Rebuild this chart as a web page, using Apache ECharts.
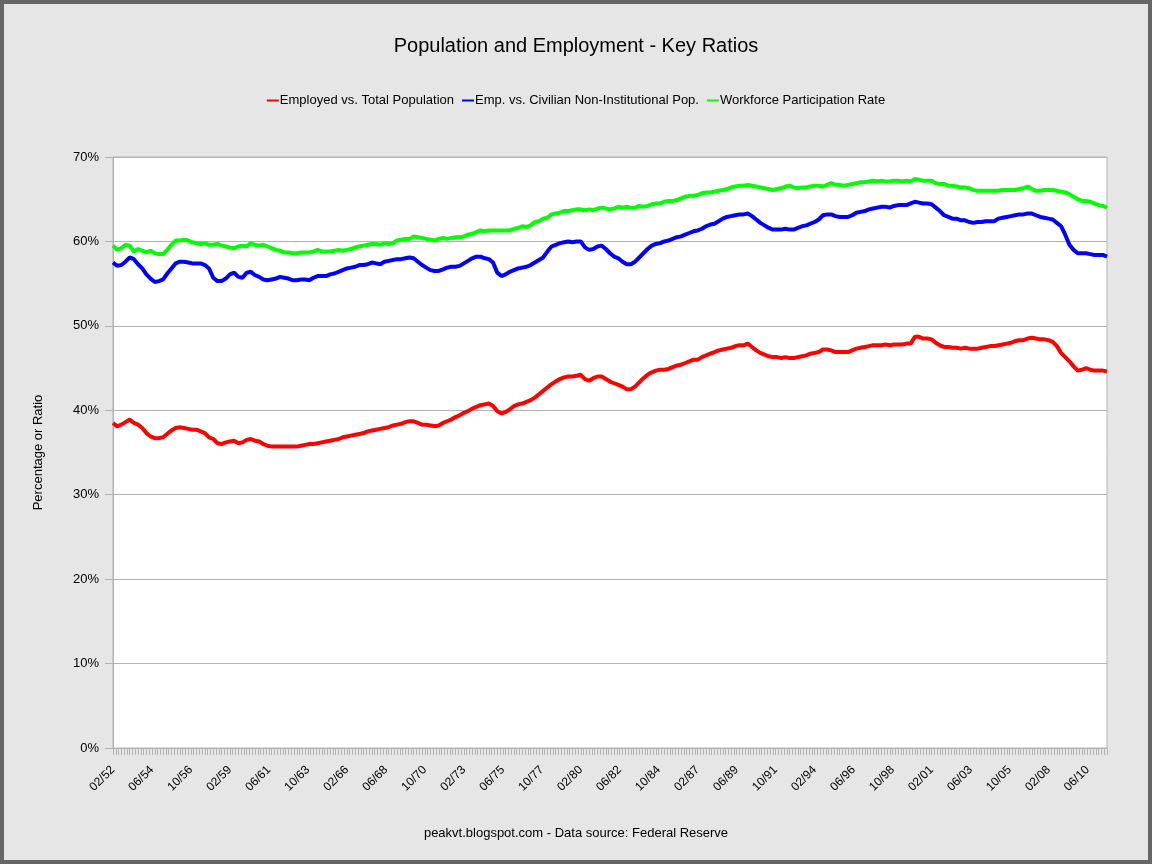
<!DOCTYPE html>
<html>
<head>
<meta charset="utf-8">
<script src="https://cdn.jsdelivr.net/npm/echarts@6/dist/echarts.min.js"></script>
<style>
html,body{margin:0;padding:0;background:#e6e6e6;}
#chart{width:1152px;height:864px;}
</style>
</head>
<body>
<div id="chart"></div>
<script>
// Monthly categories from 02/1952 through 08/2011 (715 months)
const startYear = 1952, startMonth = 2, monthCount = 715;
const categories = [];
for (let i = 0; i < monthCount; i++) {
  const m = (startMonth - 1 + i) % 12 + 1;
  const y = startYear + Math.floor((startMonth - 1 + i) / 12);
  categories.push((m < 10 ? '0' : '') + m + '/' + String(y % 100).padStart(2, '0'));
}
// Values sampled quarterly (Feb, May, Aug, Nov), every 3rd month from 02/52
const sampleStep = 3;

const employedVsTotal = [
38.5,38.1,38.3,38.6, 38.9,38.5,38.3,37.9, 37.3,36.9,36.7,36.7, 36.8,37.2,37.6,37.9,
38.0,37.9,37.8,37.7, 37.7,37.5,37.3,36.8, 36.6,36.1,36.0,36.2, 36.3,36.4,36.1,36.2,
36.5,36.6,36.4,36.3, 36.0,35.8,35.7,35.7, 35.7,35.7,35.7,35.7, 35.7,35.8,35.9,36.0,
36.0,36.1,36.2,36.3, 36.4,36.5,36.6,36.8, 36.9,37.0,37.1,37.2, 37.3,37.5,37.6,37.7,
37.8,37.9,38.0,38.2, 38.3,38.4,38.6,38.7, 38.7,38.5,38.3,38.3, 38.2,38.1,38.2,38.5,
38.7,38.9,39.2,39.4, 39.7,39.9,40.2,40.4, 40.6,40.7,40.8,40.5, 39.9,39.6,39.8,40.1,
40.5,40.7,40.8,41.0, 41.2,41.5,41.9,42.3, 42.7,43.1,43.4,43.7, 43.9,44.0,44.0,44.1,
44.2,43.7,43.5,43.8, 44.0,44.0,43.7,43.4, 43.2,43.0,42.8,42.5, 42.5,42.8,43.3,43.8,
44.2,44.5,44.7,44.8, 44.8,44.9,45.1,45.3, 45.4,45.6,45.8,46.0, 46.0,46.3,46.5,46.7,
46.9,47.1,47.2,47.3, 47.4,47.6,47.7,47.7, 47.9,47.5,47.1,46.8, 46.6,46.4,46.3,46.3,
46.2,46.3,46.2,46.2, 46.3,46.4,46.5,46.7, 46.8,46.9,47.2,47.2, 47.1,46.9,46.9,46.9,
46.9,47.1,47.3,47.4, 47.5,47.6,47.7,47.7, 47.7,47.8,47.7,47.8, 47.8,47.8,47.9,47.9,
48.7,48.7,48.5,48.5, 48.4,48.0,47.7,47.5, 47.5,47.4,47.4,47.3, 47.4,47.3,47.3,47.3,
47.4,47.5,47.6,47.6, 47.7,47.8,47.9,48.0, 48.2,48.3,48.3,48.5, 48.6,48.5,48.4,48.4,
48.3,48.1,47.6,46.8, 46.3,45.8,45.2,44.7, 44.8,45.0,44.8,44.7, 44.7,44.7,44.6
];

const empVsCivilian = [
57.5,57.1,57.2,57.6, 58.1,57.9,57.3,56.8, 56.1,55.6,55.2,55.3, 55.5,56.2,56.8,57.4,
57.6,57.6,57.5,57.4, 57.4,57.4,57.2,56.8, 55.7,55.3,55.3,55.6, 56.1,56.3,55.8,55.7,
56.3,56.4,56.0,55.8, 55.5,55.4,55.5,55.6, 55.8,55.7,55.6,55.4, 55.4,55.5,55.5,55.4,
55.7,55.9,55.9,55.9, 56.1,56.2,56.4,56.6, 56.8,56.9,57.0,57.2, 57.2,57.3,57.5,57.4,
57.3,57.6,57.7,57.8, 57.9,57.9,58.0,58.1, 58.0,57.6,57.2,56.9, 56.6,56.5,56.5,56.7,
56.9,57.0,57.0,57.1, 57.4,57.7,58.0,58.2, 58.2,58.0,57.9,57.5, 56.3,55.9,56.1,56.4,
56.6,56.8,56.9,57.0, 57.2,57.5,57.8,58.1, 58.8,59.4,59.6,59.8, 59.9,60.0,59.9,60.0,
60.0,59.3,59.0,59.1, 59.4,59.5,59.1,58.6, 58.2,58.0,57.6,57.3, 57.3,57.6,58.1,58.6,
59.1,59.5,59.7,59.8, 60.0,60.1,60.3,60.5, 60.6,60.8,61.0,61.2, 61.3,61.5,61.8,62.0,
62.1,62.4,62.7,62.9, 63.0,63.1,63.2,63.2, 63.3,63.0,62.6,62.2, 61.9,61.6,61.4,61.4,
61.4,61.5,61.4,61.4, 61.6,61.8,61.9,62.1, 62.3,62.6,63.1,63.2, 63.2,63.0,62.9,62.9,
62.9,63.1,63.4,63.5, 63.6,63.8,63.9,64.0, 64.1,64.1,64.0,64.2, 64.3,64.3,64.3,64.5,
64.7,64.6,64.5,64.5, 64.4,64.0,63.6,63.1, 62.9,62.7,62.7,62.5, 62.5,62.3,62.2,62.3,
62.3,62.4,62.4,62.4, 62.7,62.8,62.9,63.0, 63.1,63.2,63.2,63.3, 63.3,63.1,62.9,62.8,
62.7,62.6,62.2,61.8, 60.8,59.6,59.0,58.6, 58.6,58.6,58.5,58.4, 58.4,58.4,58.2
];

const participationRate = [
59.5,59.0,59.2,59.6, 59.5,58.8,59.1,58.9, 58.7,58.9,58.6,58.5, 58.5,59.0,59.6,60.1,
60.1,60.2,60.1,59.9, 59.8,59.7,59.8,59.6, 59.6,59.7,59.5,59.4, 59.3,59.2,59.4,59.5,
59.4,59.8,59.6,59.5, 59.6,59.4,59.2,59.0, 58.9,58.7,58.7,58.6, 58.6,58.7,58.7,58.7,
58.8,59.0,58.8,58.8, 58.8,58.9,59.0,58.9, 59.0,59.1,59.3,59.4, 59.5,59.6,59.7,59.7,
59.6,59.8,59.7,59.8, 60.1,60.2,60.3,60.3, 60.6,60.5,60.4,60.3, 60.2,60.1,60.3,60.4,
60.3,60.4,60.5,60.5, 60.6,60.8,60.9,61.1, 61.3,61.2,61.3,61.3, 61.3,61.3,61.3,61.3,
61.5,61.6,61.8,61.7, 61.9,62.3,62.4,62.7, 62.8,63.2,63.3,63.4, 63.6,63.6,63.7,63.8,
63.8,63.7,63.8,63.7, 63.9,64.0,63.9,63.8, 63.9,64.1,64.0,64.1, 64.0,64.0,64.2,64.1,
64.2,64.4,64.5,64.5, 64.7,64.8,64.8,64.9, 65.1,65.3,65.4,65.4, 65.5,65.7,65.8,65.8,
65.9,66.0,66.1,66.2, 66.4,66.5,66.6,66.6, 66.7,66.6,66.5,66.4, 66.3,66.2,66.1,66.2,
66.3,66.5,66.6,66.4, 66.3,66.4,66.4,66.5, 66.6,66.6,66.5,66.7, 66.9,66.7,66.7,66.6,
66.7,66.8,66.9,67.0, 67.0,67.1,67.2,67.1, 67.2,67.1,67.1,67.2, 67.2,67.1,67.2,67.1,
67.4,67.3,67.2,67.2, 67.2,66.9,66.8,66.8, 66.6,66.6,66.5,66.4, 66.4,66.3,66.1,66.0,
66.0,66.0,66.0,66.0, 66.0,66.1,66.1,66.1, 66.1,66.2,66.3,66.5, 66.2,66.0,66.0,66.1,
66.1,66.1,66.0,65.9, 65.8,65.6,65.3,65.0, 64.8,64.8,64.7,64.5, 64.3,64.2,64.0
];

const yTicks = [0, 10, 20, 30, 40, 50, 60, 70];

const font = 'Liberation Sans, Arial, sans-serif';
const toPairs = arr => arr.map((v, k) => [k * sampleStep, v]);

const chart = echarts.init(document.getElementById('chart'), null, {renderer: 'canvas'});
chart.setOption({
  animation: false,
  backgroundColor: '#e6e6e6',
  textStyle: {fontFamily: font},
  title: [
    {text: 'Population and Employment - Key Ratios', left: 'center', top: 31,
     textStyle: {fontSize: 20, fontWeight: 'normal', color: '#000', fontFamily: font}},
    {text: 'peakvt.blogspot.com - Data source: Federal Reserve', left: 'center', top: 822,
     textStyle: {fontSize: 13, fontWeight: 'normal', color: '#000', fontFamily: font}}
  ],
  legend: {
    top: 89, left: 'center', itemGap: 8, itemWidth: 12, itemHeight: 2, icon: 'rect',
    textStyle: {fontSize: 13, color: '#000', fontFamily: font, padding: [0, 0, 0, -4]},
    data: ['Employed vs. Total Population', 'Emp. vs. Civilian Non-Institutional Pop.', 'Workforce Participation Rate']
  },
  grid: {left: 113, right: 45, top: 157, bottom: 116, show: true, backgroundColor: '#ffffff', borderColor: '#b3b3b3', borderWidth: 1},
  graphic: [{type: 'rect', shape: {x: 2, y: 2, width: 1148, height: 860}, style: {fill: 'none', stroke: '#666666', lineWidth: 4}, z: 100}],
  xAxis: {
    type: 'category', data: categories, boundaryGap: false,
    axisLine: {lineStyle: {color: '#b3b3b3'}},
    axisTick: {interval: 1, length: 7, lineStyle: {color: '#b3b3b3'}},
    axisLabel: {interval: 27, rotate: 45, margin: 20, fontSize: 12, color: '#000', fontFamily: font},
    splitLine: {show: false}
  },
  yAxis: {
    type: 'value', min: yTicks[0], max: yTicks[yTicks.length - 1], interval: 10,
    name: 'Percentage or Ratio', nameLocation: 'middle', nameGap: 68,
    nameTextStyle: {fontSize: 13, color: '#000', fontFamily: font},
    axisLine: {show: true, lineStyle: {color: '#b3b3b3'}},
    axisTick: {show: true, length: 8, lineStyle: {color: '#b3b3b3'}},
    axisLabel: {formatter: '{value}%', fontSize: 13, color: '#000', margin: 14, fontFamily: font},
    splitLine: {lineStyle: {color: '#b3b3b3'}}
  },
  series: [
    {name: 'Employed vs. Total Population', type: 'line', data: toPairs(employedVsTotal), showSymbol: false, symbol: 'none',
     lineStyle: {color: '#ff0000', width: 4}, itemStyle: {color: '#ff0000'}},
    {name: 'Emp. vs. Civilian Non-Institutional Pop.', type: 'line', data: toPairs(empVsCivilian), showSymbol: false, symbol: 'none',
     lineStyle: {color: '#0000ff', width: 4}, itemStyle: {color: '#0000ff'}},
    {name: 'Workforce Participation Rate', type: 'line', data: toPairs(participationRate), showSymbol: false, symbol: 'none',
     lineStyle: {color: '#00ff00', width: 4}, itemStyle: {color: '#00ff00'}}
  ]
});
</script>
</body>
</html>
